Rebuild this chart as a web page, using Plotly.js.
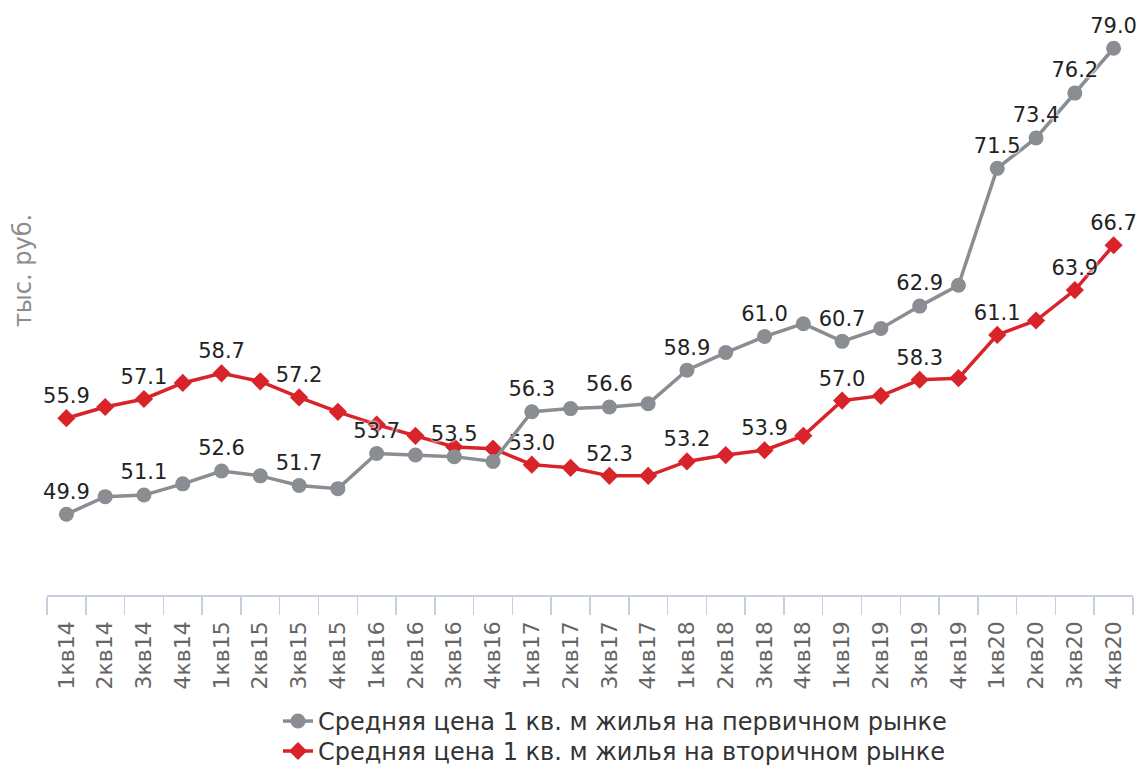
<!DOCTYPE html>
<html>
<head>
<meta charset="utf-8">
<script src="https://cdn.plot.ly/plotly-3.0.1.min.js"></script>
<style>html,body{margin:0;padding:0;background:#fff;}#chart{width:1136px;height:765px;}</style>
</head>
<body>
<div id="chart"></div>
<script>
const quarters = ["1кв14","2кв14","3кв14","4кв14","1кв15","2кв15","3кв15","4кв15",
  "1кв16","2кв16","3кв16","4кв16","1кв17","2кв17","3кв17","4кв17",
  "1кв18","2кв18","3кв18","4кв18","1кв19","2кв19","3кв19","4кв19",
  "1кв20","2кв20","3кв20","4кв20"];
const primaryPrice = [49.9,51.0,51.1,51.8,52.6,52.3,51.7,51.5,53.7,53.6,53.5,53.2,56.3,56.5,56.6,56.8,
  58.9,60.0,61.0,61.8,60.7,61.5,62.9,64.2,71.5,73.4,76.2,79.0];
const secondaryPrice = [55.9,56.6,57.1,58.1,58.7,58.2,57.2,56.3,55.5,54.8,54.1,54.0,53.0,52.8,52.3,52.3,
  53.2,53.6,53.9,54.8,57.0,57.3,58.3,58.4,61.1,62.0,63.9,66.7];
const primaryLabelIdx = [0,2,4,6,8,10,12,14,16,18,20,22,24,25,26,27];
const secondaryLabelIdx = [0,2,4,6,12,14,16,18,20,22,24,26,27];
const primaryName = "Средняя цена 1 кв. м жилья на первичном рынке";
const secondaryName = "Средняя цена 1 кв. м жилья на вторичном рынке";
const yTitle = "тыс. руб.";

function labels(vals, idx){ return vals.map((v,i)=> idx.includes(i) ? v.toFixed(1) : ""); }

const labelFont = {family:"DejaVu Sans", size:21, color:"#222", shadow:"0 0 3px #fff, 0 0 3px #fff"};

const traces = [
  {
    x: quarters, y: secondaryPrice, name: secondaryName, type:"scatter", mode:"lines+markers+text",
    text: labels(secondaryPrice, secondaryLabelIdx), textposition:"top center", textfont: labelFont,
    line:{color:"#d9232a", width:3.5}, marker:{symbol:"diamond", size:14, color:"#d9232a"},
    legend:"legend2", hoverinfo:"x+y", cliponaxis:false
  },
  {
    x: quarters, y: primaryPrice, name: primaryName, type:"scatter", mode:"lines+markers+text",
    text: labels(primaryPrice, primaryLabelIdx), textposition:"top center", textfont: labelFont,
    line:{color:"#8a8d91", width:3.5}, marker:{symbol:"circle", size:15, color:"#8a8d91"},
    legend:"legend", hoverinfo:"x+y", cliponaxis:false
  }
];

const legendFont = {family:"DejaVu Sans", size:24, color:"#333"};

const layout = {
  width:1136, height:765,
  margin:{l:47, r:3, t:30, b:170, autoexpand:false},
  paper_bgcolor:"#fff", plot_bgcolor:"#fff",
  font:{family:"DejaVu Sans", color:"#333"},
  showlegend:true,
  legend:{orientation:"v", x:0.2127, xanchor:"left", y:-0.184, yanchor:"top", font:legendFont, itemwidth:30, bgcolor:"rgba(0,0,0,0)"},
  legend2:{orientation:"v", x:0.2127, xanchor:"left", y:-0.237, yanchor:"top", font:legendFont, itemwidth:30, bgcolor:"rgba(0,0,0,0)"},
  xaxis:{type:"category", range:[-0.5,27.5], tickson:"boundaries", ticks:"outside", ticklen:18,
    tickcolor:"#c8d0e0", tickwidth:1.5, showline:true, linecolor:"#c8d0e0", linewidth:1.5, automargin:false,
    ticklabelstandoff:16,
    tickangle:-90, tickfont:{family:"DejaVu Sans", size:22, color:"#666"}, showgrid:false, zeroline:false, fixedrange:true},
  yaxis:{range:[44.86,80.14], visible:false, showgrid:false, zeroline:false, fixedrange:true, automargin:false},
  annotations:[{text:yTitle, xref:"paper", yref:"paper", x:-0.0221, y:0.575, xanchor:"center", yanchor:"middle",
    textangle:-90, showarrow:false, font:{family:"DejaVu Sans", size:24, color:"#8c8c8c"}}]
};

Plotly.newPlot("chart", traces, layout, {displayModeBar:false, staticPlot:true});
</script>
</body>
</html>
